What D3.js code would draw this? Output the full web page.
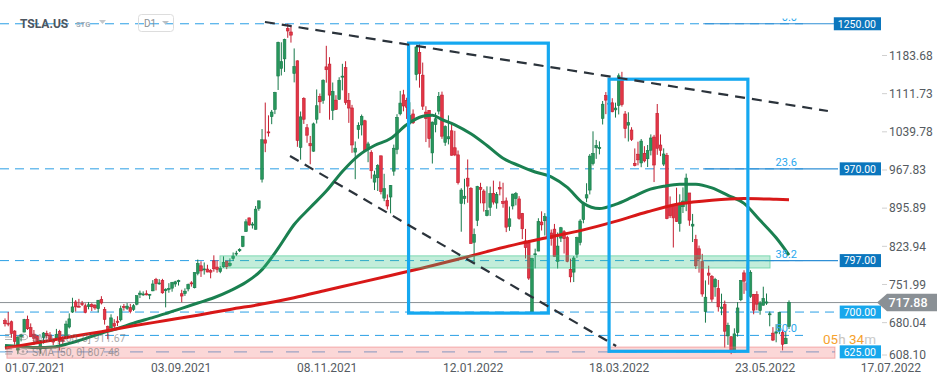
<!DOCTYPE html>
<html>
<head>
<meta charset="utf-8">
<script src="https://cdn.jsdelivr.net/npm/d3@7"></script>
<style>
  body { margin: 0; background: #fff; }
  svg { display: block; font-family: Roboto, Arial, sans-serif; }
</style>
</head>
<body>
<svg id="chart" width="949" height="385"></svg>
<script>
// daily candles TSLA.US, 01.07.2021 .. 21.06.2022 (bar index 0..244)
const open = [
  683.92,678.98,681.71,664.27,628.37,653.18,662.20,686.32,670.75,658.39,654.68,629.89,651.99,659.61,656.44,646.36,650.97,663.40,647.00,649.79,671.76,
  700.00,719.00,711.00,716.00,711.90,710.17,713.99,712.71,706.34,723.71,705.07,672.66,669.75,678.21,682.85,685.44,710.68,707.03,708.31,705.00,714.72,733.00,
  734.08,734.50,732.25,740.00,761.58,753.41,759.60,740.21,742.57,745.00,752.83,757.15,734.56,734.79,743.53,755.00,745.89,773.12,787.20,779.80,781.00,
  778.40,796.50,784.80,776.20,785.46,796.21,787.65,800.93,810.47,815.49,823.73,851.77,877.53,865.35,856.00,895.50,950.53,1024.69,1039.66,1068.31,1081.86,
  1145.00,1159.36,1177.33,1234.41,1228.00,1149.79,1173.60,1010.41,1102.77,1047.50,1017.63,1003.31,1063.51,1106.55,1098.87,1162.33,1167.51,1080.39,1099.47,1100.99,1144.37,
  1160.70,1099.06,1084.79,1001.51,1044.20,1052.71,1060.64,1008.75,1001.09,945.00,953.21,994.50,914.77,910.70,916.87,965.66,1006.80,1073.67,1109.49,1098.64,1061.33,1073.44,
  1147.75,1189.55,1146.65,1077.00,1080.37,1000.00,1053.67,1078.85,1109.07,1019.88,1026.61,1041.71,1009.73,996.34,904.76,914.20,952.43,933.36,831.56,872.71,
  935.21,928.18,882.00,897.22,923.79,905.53,935.00,908.37,909.63,861.57,900.00,914.05,913.26,886.00,834.13,830.43,700.39,809.23,815.01,
  869.68,872.13,878.77,849.10,856.30,795.53,839.48,851.45,840.20,780.61,775.27,809.00,830.99,874.49,914.98,930.00,979.94,1009.73,1008.00,1065.10,1107.99,1091.17,1094.57,
  1081.15,1089.38,1136.30,1073.47,1052.39,1043.21,980.40,997.64,981.08,999.29,989.03,1005.06,1030.00,1074.73,1014.91,978.97,995.43,898.58,899.98,902.25,
  867.00,898.58,904.11,924.52,862.07,836.45,819.31,795.00,701.00,773.48,767.16,747.36,744.52,707.00,713.99,655.02,653.53,623.85,661.42,723.25,773.84,
  755.16,729.72,733.06,733.00,702.97,712.81,716.87,696.04,660.23,660.29,665.00,661.62,640.30,673.10
];
const high = [
  687.99,700.00,684.00,665.70,654.43,658.91,687.24,693.28,678.61,666.14,656.70,647.20,662.39,664.86,662.17,648.80,668.20,666.50,654.97,683.69,697.53,
  726.94,722.65,724.90,720.95,716.33,719.03,716.59,715.18,722.80,729.90,709.50,674.58,695.77,686.55,692.13,712.13,715.22,716.97,715.40,715.00,731.00,740.39,
  739.00,740.97,734.00,760.20,764.45,762.10,762.61,744.78,754.47,756.86,758.91,761.04,742.00,744.74,753.67,758.20,774.80,799.00,795.64,793.50,789.13,
  780.78,806.97,797.31,786.66,805.00,796.38,801.24,812.32,815.41,820.25,843.21,875.00,877.95,869.49,900.00,910.00,1045.02,1094.94,1070.88,1081.00,1115.21,
  1209.75,1208.59,1215.39,1243.49,1239.87,1197.00,1174.50,1078.10,1104.97,1054.50,1031.98,1057.20,1119.64,1112.00,1138.72,1201.95,1180.50,1132.77,1108.78,1142.67,1168.00,
  1172.84,1113.00,1090.58,1021.64,1057.67,1072.38,1062.49,1020.98,1005.00,966.41,978.75,994.98,960.66,921.69,939.50,1015.66,1072.98,1117.00,1119.00,1104.00,1095.55,1082.00,
  1201.07,1208.00,1170.34,1088.00,1080.93,1059.10,1075.85,1114.84,1115.60,1052.00,1070.79,1054.67,1041.66,1004.55,933.51,951.26,987.69,935.39,857.50,937.99,
  943.70,931.50,937.00,936.50,947.77,926.29,946.27,943.81,915.96,898.88,923.00,926.43,918.50,886.87,856.73,835.30,802.48,819.50,876.86,
  889.88,886.48,886.44,855.65,866.14,849.99,860.56,854.45,843.80,800.70,805.57,842.00,875.00,907.85,942.85,997.86,1040.70,1024.49,1021.80,1097.88,1114.77,1113.95,1103.14,
  1094.75,1149.91,1152.87,1079.00,1076.59,1048.44,1008.47,1021.19,1026.24,1012.71,1014.92,1034.94,1034.00,1092.22,1034.85,1008.62,1000.00,918.00,900.00,934.40,
  922.00,935.00,961.00,924.52,885.00,845.63,825.36,809.77,759.66,787.35,769.76,764.48,760.50,734.68,721.58,679.96,653.92,669.32,718.67,759.80,778.80,
  789.80,778.82,734.21,739.31,720.71,747.82,734.96,700.85,671.56,677.20,700.69,666.99,662.91,722.00
];
const low = [
  672.80,673.26,651.40,638.32,620.46,644.69,662.16,666.30,652.84,637.88,642.20,621.29,640.50,650.29,644.60,637.30,647.11,627.24,639.40,648.80,669.00,
  698.40,701.01,708.93,711.41,697.63,705.13,701.88,704.21,699.40,714.34,676.40,648.84,669.35,667.59,673.70,682.34,702.64,704.00,697.62,702.10,712.73,726.44,
  730.61,731.50,724.20,739.26,740.77,751.63,734.52,708.85,736.40,738.36,747.61,750.00,718.62,730.44,739.12,747.92,744.56,769.31,766.18,770.68,775.00,
  763.59,776.12,774.20,773.22,783.38,780.91,785.50,796.57,805.78,813.35,822.35,851.47,862.51,857.38,855.50,890.96,944.20,1001.44,1030.78,1054.20,1073.21,
  1118.66,1146.00,1152.62,1217.00,1208.00,1133.00,1011.52,987.31,1054.68,1019.20,978.60,1002.18,1055.50,1075.02,1092.70,1132.43,1062.70,1062.00,1081.00,1100.19,1118.00,
  1090.76,1056.65,1000.21,950.50,1026.81,1033.00,1002.36,982.53,951.42,930.00,928.25,921.85,909.04,893.39,886.12,957.05,997.56,1070.72,1078.42,1064.14,1053.15,1054.59,
  1136.72,1123.05,1081.01,1020.50,1010.00,980.00,1038.82,1072.59,1026.54,1013.38,1016.06,995.00,994.00,940.50,851.47,903.21,906.00,829.00,792.01,862.05,
  905.00,889.41,880.52,881.17,902.71,894.80,920.00,896.70,850.70,853.15,893.38,901.21,874.10,837.61,801.10,760.56,700.00,782.40,814.71,
  853.78,844.27,832.60,825.16,804.57,782.17,832.01,810.36,793.77,756.04,756.57,802.26,825.72,867.39,907.09,921.75,976.40,988.80,997.32,1053.60,1073.11,1084.00,1076.64,
  1066.64,1072.53,1087.30,1027.70,1021.54,1022.44,974.64,976.60,973.10,982.19,973.41,995.33,945.06,996.42,994.00,975.30,875.00,877.36,821.70,870.00,
  851.55,886.76,890.26,862.60,832.00,781.15,774.25,728.90,680.00,751.56,719.09,728.85,700.81,694.11,633.00,638.06,620.57,623.01,653.66,720.53,734.22,
  742.00,726.77,695.80,703.33,695.01,712.39,713.47,673.12,645.30,643.00,658.33,627.73,639.59,668.00
];
const close = [
  677.92,678.90,659.58,644.65,652.81,656.95,685.70,668.54,653.38,650.60,644.22,646.22,660.50,655.29,649.26,643.38,657.62,644.78,646.98,677.35,687.20,
  709.67,709.74,710.92,714.63,699.10,713.76,709.99,707.82,722.25,717.17,686.17,665.71,688.99,673.47,680.26,706.30,708.49,711.20,701.16,711.92,730.91,735.72,
  734.09,732.39,733.57,752.92,753.87,754.86,736.27,743.00,744.49,755.83,756.99,759.49,730.17,739.38,751.94,753.64,774.39,791.36,777.56,781.31,775.48,
  775.22,781.53,780.59,782.75,793.61,785.49,791.94,805.72,811.08,818.32,843.03,870.11,864.27,865.80,894.00,909.68,1024.86,1018.43,1037.86,1077.04,1114.00,
  1208.59,1172.00,1213.86,1229.91,1222.09,1162.94,1023.50,1067.95,1063.51,1033.42,1013.39,1054.73,1089.01,1096.38,1137.06,1156.87,1109.03,1116.00,1081.92,1136.99,1144.76,
  1095.00,1084.60,1014.97,1009.01,1051.75,1068.96,1003.80,1017.03,966.41,958.51,975.99,926.92,932.57,899.94,938.53,1008.87,1067.00,1093.94,1088.47,1086.19,1070.34,1056.78,
  1199.78,1149.59,1088.12,1064.70,1026.96,1058.12,1064.40,1106.22,1031.56,1049.61,1030.51,995.65,996.27,943.90,930.00,918.40,937.41,829.10,846.35,936.72,
  931.25,905.66,891.14,923.32,907.34,922.00,932.00,904.55,860.00,875.76,922.43,923.39,876.35,856.98,821.53,764.04,800.77,809.87,870.43,
  864.37,879.89,839.29,838.29,804.58,824.40,858.97,838.30,795.35,766.37,801.89,840.23,871.60,905.39,921.16,993.98,999.11,1013.92,1010.64,1091.84,1099.57,1093.99,1077.60,
  1084.59,1145.45,1091.26,1045.76,1057.26,1025.49,975.93,986.95,1022.37,985.00,1004.29,1028.15,977.20,1008.78,1005.05,998.02,876.42,881.51,877.51,870.76,
  902.94,909.25,952.62,873.28,865.65,787.11,800.04,734.00,728.00,769.59,724.37,761.61,709.81,709.42,663.90,674.90,628.16,658.80,707.73,759.63,758.26,
  740.37,775.00,703.55,714.84,716.66,725.60,719.12,696.69,647.21,662.67,699.00,639.30,650.28,717.88
];

// SMA values at some bar indexes
const sma50Bars = [0,5,10,15,20,25,30,35,40,45,50,55,60,65,70,75,80,85,90,95,100,105,110,115,120,125,130,133,136,140,145,150,155,160,165,170,175,180,185,190,195,200,205,210,215,220,225,230,235,240,244];
const sma50Vals = [637,635,633,634,641,650,660,669,679,688,697,707,717,727,740,756,780,820,865,897,928,965,995,1014,1027,1053,1069,1071,1063,1053,1036,1014,990,976,964,955,935,905,895,903,916,930,937,941,941,934,920,905,873,840,807.48];
const sma200Bars = [0,10,20,30,40,50,60,70,80,90,100,110,120,130,140,150,160,170,180,190,200,210,220,230,240,244];
const sma200Vals = [632,642,653,663,674,684,694,705,715,727,741,755,769,783,798,814,829,842,855,871,889,904,911,914,912.5,911.67];

const yTicks = [1183.68, 1111.73, 1039.78, 967.83, 895.89, 823.94, 751.99, 680.04, 608.10];
const xTickBars = [0, 45, 90, 135, 180, 225, 270];
const xTickLabels = ["01.07.2021", "03.09.2021", "08.11.2021", "12.01.2022", "18.03.2022", "23.05.2022", "17.07.2022"];

// drawings on the chart (bar index / price)
const fibLevels = [[1243.5, "0.0"], [970, "23.6"], [797, "38.2"], [656, "50.0"]];
const priceTags = [[1243.5, "1250.00", "#0b76bd"], [970, "970.00", "#0b76bd"], [797, "797.00", "#0b76bd"], [700, "700.00", "#17a7ec"], [625, "625.00", "#17a7ec"]];
const boxes = [[125.6, 169.1, 1207, 698], [188, 231.2, 1139, 626]];
const trendLines = [[80.9, 1246.9, 256.1, 1079.1], [88.7, 994.2, 190.2, 635.9]];
const zones = [[66.9, 238.1, 806, 783, "green"], [0.6, 258.3, 634, 613, "red"]];
const lastPrice = 717.88;

const svg = d3.select("#chart");
const x = d3.scaleLinear().domain([0, 244]).range([5, 789]);
const y = d3.scaleLinear().domain([608.10, 1183.68]).range([360.8, 55.5]);
const xAxis = d3.scaleLinear().domain([0, 225]).range([5, 735]);

// level lines
fibLevels.forEach(([p]) => {
  svg.append("line").attr("x1", 0).attr("x2", 803).attr("y1", y(p)).attr("y2", y(p))
    .attr("stroke", "#2a9fe5").attr("stroke-dasharray", "9,6");
});
svg.append("line").attr("x1", 0).attr("x2", 839).attr("y1", y(700)).attr("y2", y(700))
  .attr("stroke", "#2a9fe5").attr("stroke-dasharray", "9,6");
svg.append("line").attr("x1", 0).attr("x2", 835).attr("y1", y(625)).attr("y2", y(625))
  .attr("stroke", "#7db8e6").attr("stroke-width", 1.2).attr("stroke-dasharray", "13,13");
fibLevels.slice(0, 3).forEach(([p]) => {
  svg.append("line").attr("x1", x(217.3)).attr("x2", 838).attr("y1", y(p)).attr("y2", y(p))
    .attr("stroke", "#2f8fd6").attr("stroke-width", 1.2);
});
svg.append("line").attr("x1", 0).attr("x2", 878).attr("y1", y(lastPrice)).attr("y2", y(lastPrice))
  .attr("stroke", "#8a9095");

// candles
const bars = d3.range(close.length).map(i => ({ i, o: open[i], h: high[i], l: low[i], c: close[i] }));
const up = d => d.c >= d.o;
const cg = svg.append("g");
cg.selectAll("line").data(bars).join("line")
  .attr("x1", d => x(d.i)).attr("x2", d => x(d.i))
  .attr("y1", d => y(d.h)).attr("y2", d => y(d.l))
  .attr("stroke", d => up(d) ? "#17794a" : "#c41d2f");
cg.selectAll("rect").data(bars).join("rect")
  .attr("x", d => x(d.i) - 1.35).attr("width", 2.7)
  .attr("y", d => y(Math.max(d.o, d.c)))
  .attr("height", d => Math.max(1, Math.abs(y(d.o) - y(d.c))))
  .attr("fill", d => up(d) ? "#28975c" : "#e23646")
  .attr("stroke", d => up(d) ? "#17794a" : "#c41d2f").attr("stroke-width", 0.6);

// SMA lines
const smaLine = d3.line().x(d => x(d[0])).y(d => y(d[1])).curve(d3.curveMonotoneX);
svg.append("path").datum(d3.zip(sma50Bars, sma50Vals)).attr("d", smaLine)
  .attr("fill", "none").attr("stroke", "#1a8050").attr("stroke-width", 3).attr("stroke-linejoin", "round");
svg.append("path").datum(d3.zip(sma200Bars, sma200Vals)).attr("d", smaLine)
  .attr("fill", "none").attr("stroke", "#d81818").attr("stroke-width", 3).attr("stroke-linejoin", "round");

// zones
zones.forEach(([i0, i1, p0, p1, kind]) => {
  svg.append("rect").attr("x", x(i0)).attr("width", x(i1) - x(i0))
    .attr("y", y(p0)).attr("height", y(p1) - y(p0))
    .attr("fill", kind === "green" ? "rgba(52,196,134,0.3)" : "rgba(240,110,110,0.28)")
    .attr("stroke", kind === "green" ? "rgba(52,196,134,0.55)" : "rgba(235,110,110,0.5)");
});

// boxes and trend lines
boxes.forEach(([i0, i1, p0, p1]) => {
  svg.append("rect").attr("x", x(i0)).attr("width", x(i1) - x(i0))
    .attr("y", y(p0)).attr("height", y(p1) - y(p0))
    .attr("fill", "none").attr("stroke", "#15a8f0").attr("stroke-width", 3.2);
});
trendLines.forEach(([i0, p0, i1, p1]) => {
  svg.append("line").attr("x1", x(i0)).attr("y1", y(p0)).attr("x2", x(i1)).attr("y2", y(p1))
    .attr("stroke", "#2b333b").attr("stroke-width", 2.2).attr("stroke-dasharray", "10,7");
});

// fib labels (the top one is cut by the chart edge)
svg.append("clipPath").attr("id", "topclip").append("rect").attr("x", 0).attr("y", 18.5).attr("width", 949).attr("height", 368);
fibLevels.forEach(([p, t]) => {
  svg.append("text").attr("x", 797).attr("y", y(p) - 3).attr("text-anchor", "end")
    .attr("clip-path", "url(#topclip)")
    .attr("font-size", 11).attr("fill", "#2aa8ee").text(t);
});

// right axis
const ax = svg.append("g");
yTicks.forEach(v => {
  const yy = Math.min(y(v), 355);
  ax.append("line").attr("x1", 882).attr("x2", 887).attr("y1", yy).attr("y2", yy).attr("stroke", "#d0d0d0");
  ax.append("text").attr("x", 889).attr("y", yy).attr("dy", "0.36em")
    .attr("font-size", 12).attr("fill", "#555b61").text(v.toFixed(2));
});

// price tags
priceTags.forEach(([p, t, col]) => {
  const g = svg.append("g");
  const txt = g.append("text").attr("x", 876).attr("y", y(p)).attr("dy", "0.36em")
    .attr("text-anchor", "end").attr("font-size", 10.5).attr("fill", "#fff").text(t);
  const w = txt.node().getComputedTextLength();
  g.insert("rect", "text").attr("x", 876 - w - 4).attr("width", w + 9)
    .attr("y", y(p) - 6.5).attr("height", 13).attr("fill", col);
});
const ly = y(lastPrice);
svg.append("path")
  .attr("d", `M877,${ly} L887,${ly - 8.7} L937,${ly - 8.7} L937,${ly + 8.7} L887,${ly + 8.7} Z`)
  .attr("fill", "#8a9095");
svg.append("text").attr("x", 908).attr("y", ly).attr("dy", "0.36em").attr("text-anchor", "middle")
  .attr("font-size", 12.5).attr("font-weight", 500).attr("fill", "#fff").text(lastPrice.toFixed(2));

// candle countdown
const cd = svg.append("text").attr("x", 823).attr("y", 343.5).attr("font-size", 13.5);
cd.append("tspan").attr("fill", "#f6a22e").text("05");
cd.append("tspan").attr("fill", "#c9c4bc").text("h ");
cd.append("tspan").attr("fill", "#f6a22e").text("34");
cd.append("tspan").attr("fill", "#c9c9c9").text("m");

// x axis labels
xTickBars.forEach((b, k) => {
  const t = svg.append("text").attr("y", 372).attr("font-size", 12).attr("fill", "#555b61").text(xTickLabels[k]);
  const w = t.node().getComputedTextLength();
  t.attr("x", Math.min(xAxis(b), 921 - w));
});

// indicator legend
const legend = [["SMA [200, 0] 911.67", 341.5], ["SMA [50, 0] 807.48", 356]];
legend.forEach(([t, yy]) => {
  const g = svg.append("g").attr("opacity", 0.55);
  g.append("path").attr("d", `M5,${yy - 7} h7 M5,${yy - 4.5} h7 M5,${yy - 2} h7`).attr("stroke", "#777").attr("stroke-width", 1.2);
  g.append("ellipse").attr("cx", 23).attr("cy", yy - 4.5).attr("rx", 4.5).attr("ry", 2.8).attr("fill", "none").attr("stroke", "#777");
  g.append("circle").attr("cx", 23).attr("cy", yy - 4.5).attr("r", 1.3).attr("fill", "#777");
  g.append("text").attr("x", 32).attr("y", yy).attr("font-size", 10.5).attr("fill", "#666").text(t);
});

// header
svg.append("text").attr("x", 20).attr("y", 28).attr("font-size", 12).attr("font-weight", 700)
  .attr("fill", "#4d5660").text("TSLA.US");
svg.append("text").attr("x", 76).attr("y", 27).attr("font-size", 7.5).attr("font-weight", 700)
  .attr("fill", "#a3abb3").text("STG");
svg.append("path").attr("d", "M99,20 L106,20 L102.5,24 Z").attr("fill", "#c3c7cb");
svg.append("rect").attr("x", 138.5).attr("y", 14.5).attr("width", 35).attr("height", 17).attr("rx", 3)
  .attr("fill", "none").attr("stroke", "#dddddd");
svg.append("text").attr("x", 144).attr("y", 27).attr("font-size", 10).attr("fill", "#8a8f94").text("D1");
svg.append("path").attr("d", "M162,21 L169,21 L165.5,24.5 Z").attr("fill", "#bcc0c4");
</script>
</body>
</html>
